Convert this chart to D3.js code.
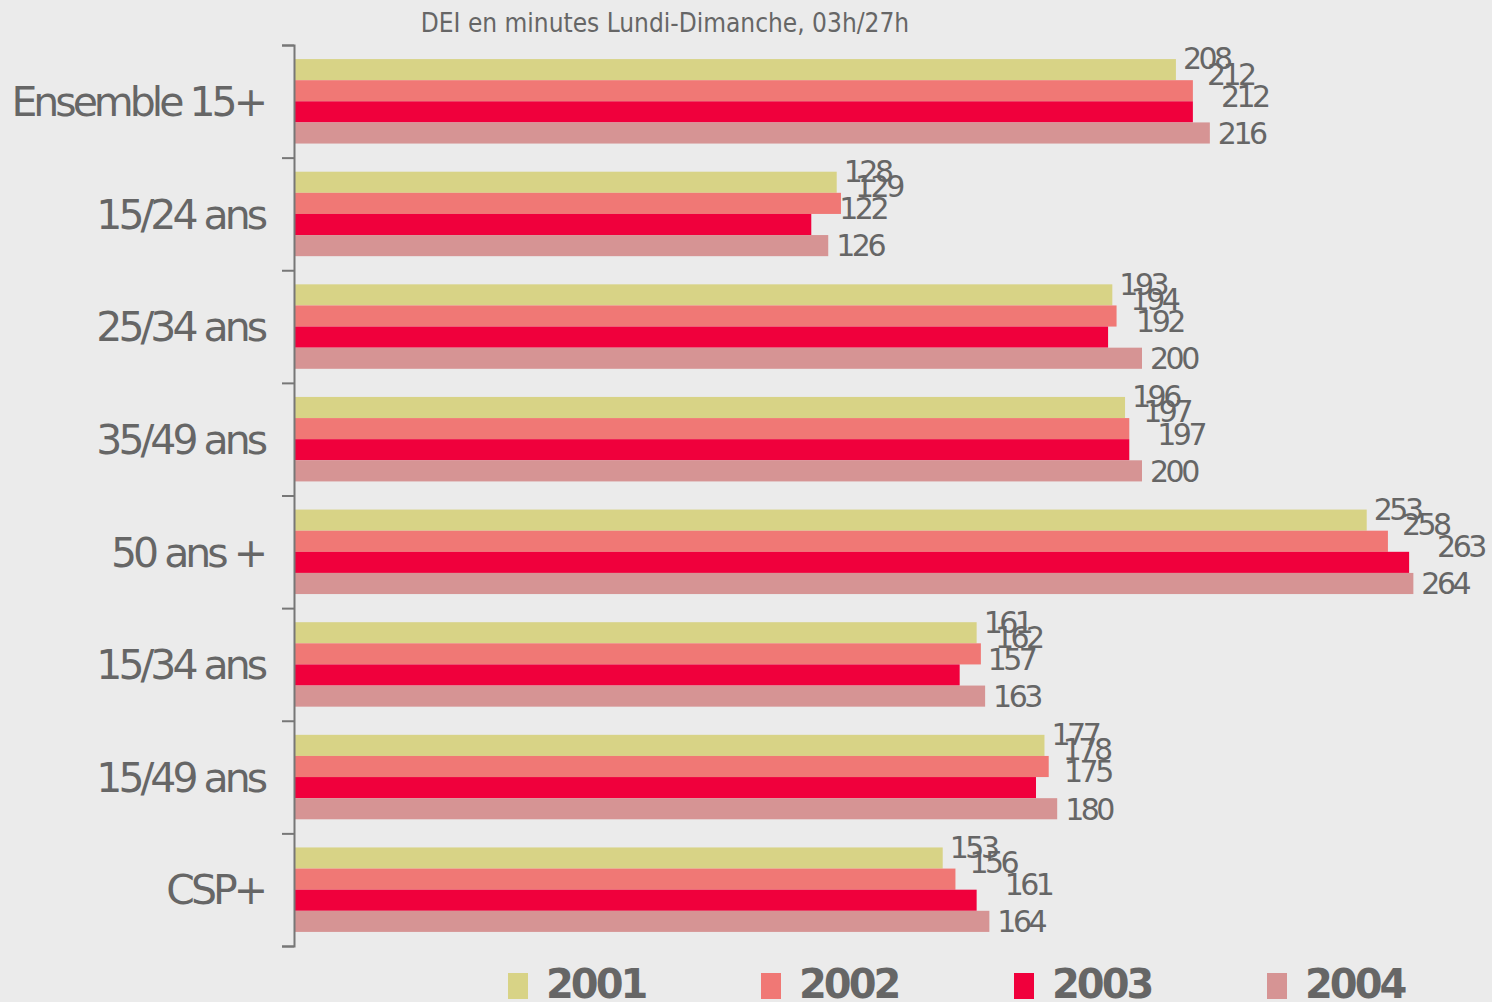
<!DOCTYPE html>
<html>
<head>
<meta charset="utf-8">
<script src="https://cdn.jsdelivr.net/npm/d3@7"></script>
<style>
  body { margin: 0; background: #ebebeb; }
  svg { display: block; }
</style>
</head>
<body>
<div id="chart"></div>
<script>
// categories and series
var categories = ["Ensemble 15+", "15/24 ans", "25/34 ans", "35/49 ans", "50 ans +", "15/34 ans", "15/49 ans", "CSP+"];
var years = ["2001", "2002", "2003", "2004"];
var v2001 = [208, 128, 193, 196, 253, 161, 177, 153];
var v2002 = [212, 129, 194, 197, 258, 162, 178, 156];
var v2003 = [212, 122, 192, 197, 263, 157, 175, 161];
var v2004 = [216, 126, 200, 200, 264, 163, 180, 164];
var title = "DEI en minutes Lundi-Dimanche, 03h/27h";

var colors = ["#d8d386", "#f07875", "#f0003c", "#d69494"];
// label nudges per series (the original labels sit slightly off the bars)
var labelDx = [7, 14, 28, 8];
var labelDy = [-11, -17, -16, 0];

var width = 1492, height = 1002;
var margin = { top: 45, right: 0, bottom: 56, left: 294 };

var series = [v2001, v2002, v2003, v2004];

var svg = d3.select("#chart").append("svg")
    .attr("width", width)
    .attr("height", height)
    .style("background", "#ebebeb");

var xScale = d3.scaleLinear()
    .domain([0, 300])
    .range([margin.left, margin.left + 1272]);

var yScale = d3.scaleBand()
    .domain(categories)
    .range([margin.top, height - margin.bottom])
    .paddingInner(0.25)
    .paddingOuter(0.125);

var inner = d3.scaleBand()
    .domain(years)
    .range([0, yScale.bandwidth()]);

// title
svg.append("text")
    .attr("x", 665)
    .attr("y", 32)
    .attr("text-anchor", "middle")
    .attr("font-family", "DejaVu Sans Condensed")
    .attr("font-size", 26)
    .attr("fill", "#666")
    .text(title);

// bars
var groups = svg.selectAll("g.grp")
    .data(categories)
    .enter()
    .append("g")
    .attr("class", "grp")
    .attr("transform", function (d) { return "translate(0," + yScale(d) + ")"; });

groups.selectAll("rect")
    .data(function (d, i) { return series.map(function (s, j) { return { v: s[i], j: j }; }); })
    .enter()
    .append("rect")
    .attr("x", xScale(0))
    .attr("y", function (d) { return inner(years[d.j]); })
    .attr("width", function (d) { return xScale(d.v) - xScale(0); })
    .attr("height", inner.bandwidth())
    .attr("fill", function (d) { return colors[d.j]; });

// value labels
groups.selectAll("text.val")
    .data(function (d, i) { return series.map(function (s, j) { return { v: s[i], j: j }; }); })
    .enter()
    .append("text")
    .attr("class", "val")
    .attr("x", function (d) { return xScale(d.v) + labelDx[d.j]; })
    .attr("y", function (d) { return inner(years[d.j]) + inner.bandwidth() / 2 + labelDy[d.j]; })
    .attr("dy", "0.36em")
    .attr("font-family", "DejaVu Sans")
    .attr("font-size", 30)
    .attr("letter-spacing", -3.5)
    .attr("fill", "#666")
    .text(function (d) { return d.v; });

// axis: ticks between the groups
var tickScale = d3.scaleLinear()
    .domain([0, categories.length])
    .range([margin.top, height - margin.bottom]);

var axis = svg.append("g")
    .attr("transform", "translate(" + margin.left + ",0)")
    .call(d3.axisLeft(tickScale)
        .ticks(categories.length)
        .tickSize(12)
        .tickSizeOuter(12)
        .tickFormat(""));
axis.selectAll("path, line")
    .attr("stroke", "#777")
    .attr("stroke-width", 2);

// category labels
svg.append("g").selectAll("text")
    .data(categories)
    .enter()
    .append("text")
    .attr("x", 264)
    .attr("y", function (d) { return yScale(d) + yScale.bandwidth() / 2; })
    .attr("dy", "0.36em")
    .attr("text-anchor", "end")
    .attr("font-family", "DejaVu Sans")
    .attr("font-size", 41)
    .attr("letter-spacing", -4)
    .attr("fill", "#666")
    .text(function (d) { return d; });

// legend
var legend = svg.append("g").selectAll("g")
    .data(years)
    .enter()
    .append("g")
    .attr("transform", function (d, i) { return "translate(" + (508 + i * 253) + ",973)"; });

legend.append("rect")
    .attr("width", 20)
    .attr("height", 26)
    .attr("fill", function (d, i) { return colors[i]; });

legend.append("text")
    .attr("x", 38)
    .attr("y", 11)
    .attr("dy", "0.36em")
    .attr("font-family", "DejaVu Sans")
    .attr("font-weight", "bold")
    .attr("font-size", 40)
    .attr("letter-spacing", -3)
    .attr("fill", "#666")
    .text(function (d) { return d; });
</script>
</body>
</html>
